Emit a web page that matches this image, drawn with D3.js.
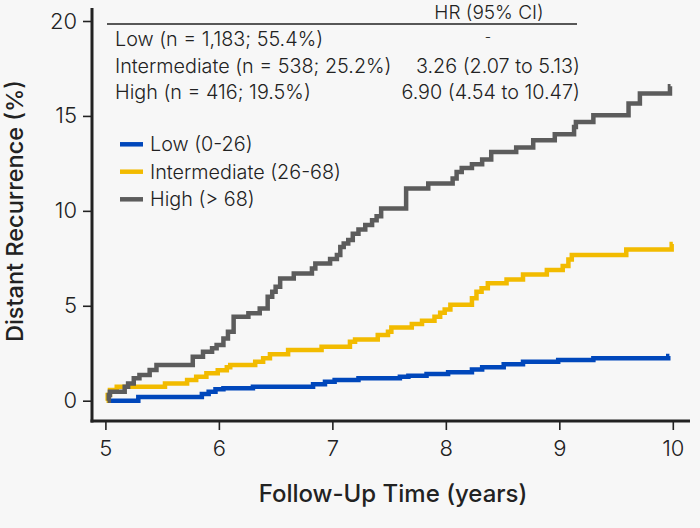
<!DOCTYPE html>
<html><head><meta charset="utf-8">
<script src="https://cdn.jsdelivr.net/npm/d3@7"></script>
<style>
html,body{margin:0;padding:0;background:#f7f7f7;}
svg{display:block;}
text{font-family:Inter,Roboto,"Noto Sans",sans-serif;fill:#222;}
</style></head>
<body><svg id="chart" width="700" height="528"></svg>
<script>
// ---- data ----
const seriesNames = ["Low (0-26)", "Intermediate (26-68)", "High (> 68)"];
const lowTimes   = [5.04,5.29,5.85,5.91,5.97,6.04,6.30,6.83,6.935,7.02,7.23,7.595,7.67,7.83,8.02,8.23,8.32,8.51,8.68,8.99,9.30,9.96,9.97];
const lowValues  = [0,0.2,0.35,0.47,0.6,0.65,0.74,0.86,1.0,1.09,1.18,1.26,1.32,1.4,1.5,1.65,1.76,1.92,2.05,2.14,2.23,2.35,2.35];
const intTimes   = [5.01,5.02,5.04,5.10,5.525,5.72,5.80,5.89,5.99,6.07,6.10,6.32,6.39,6.45,6.61,6.905,7.155,7.2,7.40,7.49,7.52,7.70,7.79,7.90,7.95,7.99,8.04,8.23,8.27,8.315,8.37,8.535,8.68,8.89,9.03,9.08,9.11,9.59,9.99,10.0];
const intValues  = [0,0.3,0.56,0.74,0.91,1.09,1.26,1.44,1.61,1.76,1.88,2.05,2.23,2.45,2.67,2.84,3.1,3.23,3.46,3.63,3.86,4.04,4.21,4.42,4.63,4.81,5.05,5.39,5.74,5.92,6.18,6.39,6.65,6.88,7.09,7.44,7.67,7.97,8.25,8.25];
const highTimes  = [5.02,5.03,5.04,5.17,5.20,5.25,5.30,5.39,5.45,5.77,5.86,5.94,5.98,6.04,6.08,6.13,6.26,6.36,6.43,6.47,6.50,6.54,6.66,6.82,6.85,6.98,7.04,7.07,7.10,7.14,7.18,7.23,7.29,7.35,7.39,7.43,7.65,7.845,8.06,8.095,8.14,8.23,8.32,8.40,8.62,8.77,8.96,9.13,9.146,9.30,9.61,9.71,9.975,9.98];
const highValues = [0,0.3,0.47,0.74,0.91,1.18,1.35,1.62,1.88,2.32,2.58,2.76,2.93,3.28,3.63,4.42,4.6,4.86,5.47,5.74,6.0,6.44,6.7,6.97,7.23,7.46,7.67,8.1,8.28,8.46,8.8,9.02,9.25,9.5,9.72,10.13,11.18,11.44,11.7,12.05,12.26,12.46,12.7,13.1,13.34,13.72,14.04,14.42,14.68,15.04,15.65,16.18,16.56,16.56];
const xTicks = [5,6,7,8,9,10];
const yTicks = [0,5,10,15,20];
const tableRows = ["Low (n = 1,183; 55.4%)", "Intermediate (n = 538; 25.2%)", "High (n = 416; 19.5%)"];
const tableHR = ["-", "3.26 (2.07 to 5.13)", "6.90 (4.54 to 10.47)"];
const colors = ["#0047BB", "#F2BB00", "#5C5C5C"];

// ---- layout ----
const svg = d3.select("#chart");
const x = d3.scaleLinear().domain([5,10]).range([105.4,672.8]);
const y = d3.scaleLinear().domain([0,20]).range([400.7,21]);
const axisX0 = 92, axisY0 = 421;

svg.append("rect").attr("width",700).attr("height",528).attr("fill","#f7f7f7");

// axes lines
svg.append("line").attr("x1",axisX0).attr("x2",axisX0).attr("y1",8).attr("y2",axisY0+1.5)
  .attr("stroke","#222").attr("stroke-width",3);
svg.append("line").attr("x1",axisX0-1.5).attr("x2",690).attr("y1",axisY0).attr("y2",axisY0)
  .attr("stroke","#222").attr("stroke-width",3);

const tickFont = "22px";
// y axis
const yAxis = d3.axisLeft(y).tickValues(yTicks).tickFormat(d3.format("d")).tickSize(8).tickPadding(6);
const gy = svg.append("g").attr("transform",`translate(${axisX0-1},0)`).call(yAxis);
gy.select(".domain").remove();
gy.selectAll(".tick line").attr("stroke","#222").attr("stroke-width",1.6);
gy.selectAll(".tick text").style("font-size",tickFont).style("font-weight",300).attr("fill","#222")
  .style("font-family","Inter,Roboto,sans-serif");

// x axis
const xAxis = d3.axisBottom(x).tickValues(xTicks).tickFormat(d3.format("d")).tickSize(8).tickPadding(10);
const gx = svg.append("g").attr("transform",`translate(0,${axisY0+1})`).call(xAxis);
gx.select(".domain").remove();
gx.selectAll(".tick line").attr("stroke","#222").attr("stroke-width",1.6);
gx.selectAll(".tick text").style("font-size",tickFont).style("font-weight",300).attr("fill","#222")
  .style("font-family","Inter,Roboto,sans-serif");

// axis titles
svg.append("text").attr("x",393).attr("y",502).attr("text-anchor","middle")
  .style("font-size","24px").style("font-weight",500).text("Follow-Up Time (years)");
svg.append("text").attr("transform","translate(23,211) rotate(-90)").attr("text-anchor","middle")
  .style("font-size","23.5px").style("font-weight",500).text("Distant Recurrence (%)");

// curves
const series = [
  {t: lowTimes, v: lowValues},
  {t: intTimes, v: intValues},
  {t: highTimes, v: highValues}
];
const line = d3.line().x(d=>x(d[0])).y(d=>y(d[1])).curve(d3.curveStepAfter);
[1,0,2].forEach(i=>{
  const pts = series[i].t.map((t,j)=>[t, series[i].v[j]]);
  svg.append("path").datum(pts).attr("d",line).attr("fill","none")
    .attr("stroke",colors[i]).attr("stroke-width",4.5).attr("stroke-linejoin","miter").attr("stroke-linecap","butt");
});

// table
const tFont = "19.8px";
svg.append("line").attr("x1",107).attr("x2",577).attr("y1",24).attr("y2",24).attr("stroke","#222").attr("stroke-width",1.6);
svg.append("text").attr("x",489).attr("y",18.5).attr("text-anchor","middle")
  .style("font-size","19px").style("font-weight",300).text("HR (95% CI)");
const rowY = [46, 72.5, 98.5];
tableRows.forEach((r,i)=>{
  svg.append("text").attr("x",115).attr("y",rowY[i]).style("font-size",tFont).style("font-weight",300).text(r);
});
tableHR.forEach((r,i)=>{
  if (i===0) {
    svg.append("text").attr("x",488).attr("y",rowY[i]-4).attr("text-anchor","middle").style("font-size","14px").style("font-weight",300).text(r);
  } else {
    svg.append("text").attr("x",580).attr("y",rowY[i]).attr("text-anchor","end").style("font-size",tFont).style("font-weight",300).text(r);
  }
});

// legend
const legY = [144.3, 171.7, 199.3];
seriesNames.forEach((n,i)=>{
  svg.append("line").attr("x1",120).attr("x2",143).attr("y1",legY[i]).attr("y2",legY[i])
    .attr("stroke",colors[i]).attr("stroke-width",4.5);
  svg.append("text").attr("x",150).attr("y",legY[i]).attr("dy","0.36em")
    .style("font-size",tFont).style("font-weight",300).text(n);
});
</script></body></html>
